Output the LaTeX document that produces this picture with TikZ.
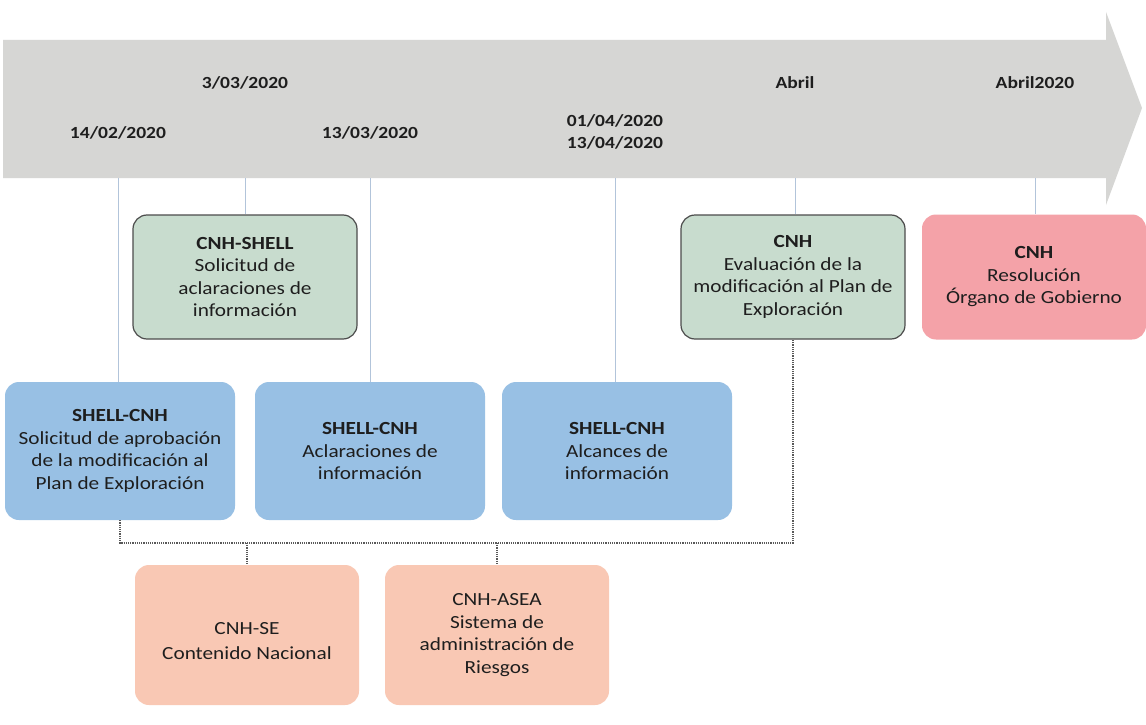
\documentclass[tikz,border=0pt]{standalone}
\usepackage{fontspec}
\setmainfont{Carlito}[FakeStretch=1.15]
\definecolor{arrowgray}{RGB}{214,214,212}
\definecolor{boxgreen}{RGB}{200,220,206}
\definecolor{boxblue}{RGB}{152,192,228}
\definecolor{boxred}{RGB}{244,162,168}
\definecolor{boxsalmon}{RGB}{249,200,180}
\definecolor{tickline}{RGB}{178,196,218}
\definecolor{txt}{RGB}{30,30,30}
\tikzset{
  basebox/.style={rounded corners=14pt, align=center, text=txt,
    font=\fontsize{18.5}{22.5}\selectfont, inner sep=2pt},
  greenbox/.style={basebox, fill=boxgreen, draw=black!70, line width=1.2pt,
    minimum width=224pt, minimum height=124pt},
  bluebox/.style={basebox, fill=boxblue, minimum width=230pt, minimum height=138pt},
  redbox/.style={basebox, fill=boxred, minimum width=224pt, minimum height=125pt},
  salmonbox/.style={basebox, fill=boxsalmon, minimum width=224pt, minimum height=140pt},
  datelbl/.style={text=txt, font=\fontsize{17}{22}\selectfont\bfseries, align=center, inner sep=0pt},
  tick/.style={draw=tickline, line width=0.8pt},
  dotline/.style={draw=black!65, line width=1.2pt, densely dotted}
}
\begin{document}
\begin{tikzpicture}[x=1pt,y=-1pt]
\fill[white] (0,0) rectangle (1146,725);
\useasboundingbox (0,0) rectangle (1146,725);
% timeline arrow
\fill[arrowgray] (3,40) -- (1106,40) -- (1106,12) -- (1142,108) -- (1106,205)
  -- (1106,178) -- (3,178) -- cycle;
% tick coordinates on arrow bottom
\coordinate (t1) at (118,178);
\coordinate (t2) at (245,178);
\coordinate (t3) at (370,178);
\coordinate (t4) at (615,178);
\coordinate (t5) at (795,178);
\coordinate (t6) at (1035,178);
% dates
\node[datelbl] (d2) at (245,83) {3/03/2020};
\node[datelbl] (d1) at (118,133) {14/02/2020};
\node[datelbl] (d3) at (370,133) {13/03/2020};
\node[datelbl] (d4) at (615,132) {01/04/2020\\13/04/2020};
\node[datelbl] (d5) at (795,83) {Abril};
\node[datelbl] (d6) at (1035,83) {Abril2020};
% boxes
\node[greenbox] (g1) at (245,277) {\textbf{CNH-SHELL}\\Solicitud de\\aclaraciones de\\información};
\node[greenbox] (g2) at (793,277) {\textbf{CNH}\\Evaluación de la\\modificación al Plan de\\Exploración};
\node[redbox] (r1) at (1034,277) {\textbf{CNH}\\Resolución\\Órgano de Gobierno};
\node[bluebox] (b1) at (120,451) {\textbf{SHELL-CNH}\\Solicitud de aprobación\\de la modificación al\\Plan de Exploración};
\node[bluebox] (b2) at (370,451) {\textbf{SHELL-CNH}\\Aclaraciones de\\información};
\node[bluebox] (b3) at (617,451) {\textbf{SHELL-CNH}\\Alcances de\\información};
\node[salmonbox] (s1) at (247,635) {\mbox{}\\[2pt]CNH-SE\\[3pt]Contenido Nacional};
\node[salmonbox] (s2) at (497,635) {CNH-ASEA\\Sistema de\\administración de\\Riesgos};
% ticks
\draw[tick] (t1) -- (b1.north -| t1);
\draw[tick] (t2) -- (g1.north -| t2);
\draw[tick] (t3) -- (b2.north -| t3);
\draw[tick] (t4) -- (b3.north -| t4);
\draw[tick] (t5) -- (g2.north -| t5);
\draw[tick] (t6) -- (r1.north -| t6);
% dotted connectors
\coordinate (j1) at (120,543);
\coordinate (j2) at (793,543);
\draw[dotline] (b1.south) -- (j1) -- (j2) -- (g2.south);
\draw[dotline] (s1.north |- j1) -- (s1.north);
\draw[dotline] (s2.north |- j1) -- (s2.north);
\end{tikzpicture}
\end{document}
